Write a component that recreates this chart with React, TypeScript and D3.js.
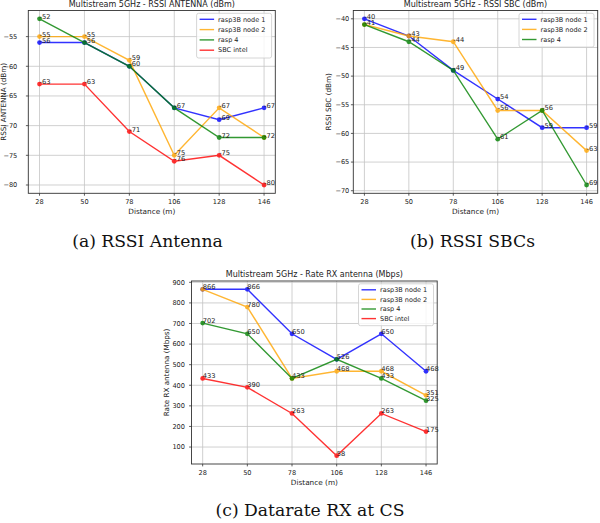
import React from "react";
import * as d3 from "d3";

const distances = ["28", "50", "78", "106", "128", "146"];
const seriesNames = ["rasp3B node 1", "rasp3B node 2", "rasp 4", "SBC intel"];
const seriesColors = ["#0000ff", "#ffa500", "#008000", "#ff0000"];

// (a) RSSI antenna (dBm)
const rssiAntNode1 = [-56, -56, -60, -67, -69, -67];
const rssiAntNode2 = [-55, -55, -59, -75, -67, -72];
const rssiAntRasp4 = [-52, -56, -60, -67, -72, -72];
const rssiAntIntel = [-63, -63, -71, -76, -75, -80];
const rssiAntTicks = [-80, -75, -70, -65, -60, -55];

// (b) RSSI SBC (dBm)
const rssiSbcNode1 = [-40, -43, -49, -54, -59, -59];
const rssiSbcNode2 = [-41, -43, -44, -56, -56, -63];
const rssiSbcRasp4 = [-41, -44, -49, -61, -56, -69];
const rssiSbcTicks = [-70, -65, -60, -55, -50, -45, -40];

// (c) Rate RX antenna (Mbps)
const rateNode1 = [866, 866, 650, 526, 650, 468];
const rateNode2 = [866, 780, 433, 468, 468, 351];
const rateRasp4 = [702, 650, 433, 526, 433, 325];
const rateIntel = [433, 390, 263, 58, 263, 175];
const rateTicks = [100, 200, 300, 400, 500, 600, 700, 800, 900];

type Series = { name: string; color: string; values: number[] };

const SANS = "DejaVu Sans, sans-serif";
const SERIF = "DejaVu Serif, serif";

function makeSeries(vals: number[][]): Series[] {
  return vals.map((v, i) => ({ name: seriesNames[i], color: seriesColors[i], values: v }));
}

type ChartProps = {
  left: number;
  top: number;
  width: number;
  height: number;
  title: string;
  ylabel: string;
  yTicks: number[];
  series: Series[];
  ytickGap: number;
  ylabelX: number;
  legendRowH: number;
};

function Chart(p: ChartProps) {
  const { left, top, width, height, series } = p;
  const right = left + width;
  const bottom = top + height;
  const x = d3.scalePoint<string>().domain(distances).range([left, right]).padding(0.25);
  const all = series.flatMap((s) => s.values);
  const mn = d3.min(all) as number;
  const mx = d3.max(all) as number;
  const pad = (mx - mn) * 0.05;
  const y = d3.scaleLinear().domain([mn - pad, mx + pad]).range([bottom, top]);
  const fmt = d3.format("d");
  const line = d3
    .line<number>()
    .x((_, i) => x(distances[i]) as number)
    .y((d) => y(d));

  // annotations: identical labels at the same spot are drawn once
  const seen = new Set<string>();
  const labels: { key: string; x: number; y: number; text: string }[] = [];
  series.forEach((s) =>
    s.values.forEach((v, i) => {
      const k = distances[i] + "|" + v;
      if (seen.has(k)) return;
      seen.add(k);
      labels.push({ key: s.name + i, x: x(distances[i]) as number, y: y(v), text: String(v) });
    })
  );

  const legW = 75;
  const legX = right - 3.7 - legW;
  const legY = top + 2.8;
  const rowH = p.legendRowH;
  const legH = series.length * rowH + 3.5;

  return (
    <g>
      {distances.map((d) => (
        <line key={"gx" + d} x1={x(d)} x2={x(d)} y1={top} y2={bottom} stroke="#c4c4c4" strokeWidth={0.8} />
      ))}
      {p.yTicks.map((t) => (
        <line key={"gy" + t} x1={left} x2={right} y1={y(t)} y2={y(t)} stroke="#c4c4c4" strokeWidth={0.8} />
      ))}
      {series.map((s) => (
        <g key={s.name} opacity={0.8}>
          <path d={line(s.values) || ""} fill="none" stroke={s.color} strokeWidth={1.4} />
          {s.values.map((v, i) => (
            <circle key={i} cx={x(distances[i])} cy={y(v)} r={2.4} fill={s.color} />
          ))}
        </g>
      ))}
      {labels.map((l) => (
        <text key={l.key} x={l.x} y={l.y} fontFamily={SANS} fontSize={6.7} fill="#1a1a1a">
          {l.text}
        </text>
      ))}
      <rect x={left} y={top} width={width} height={height} fill="none" stroke="#333" strokeWidth={0.9} />
      {distances.map((d) => (
        <g key={"xt" + d}>
          <line x1={x(d)} x2={x(d)} y1={bottom} y2={bottom + 2.4} stroke="#333" strokeWidth={0.8} />
          <text x={x(d)} y={bottom + 10.5} textAnchor="middle" fontFamily={SANS} fontSize={6.6} fill="#222">
            {d}
          </text>
        </g>
      ))}
      {p.yTicks.map((t) => (
        <g key={"yt" + t}>
          <line x1={left - 2.4} x2={left} y1={y(t)} y2={y(t)} stroke="#333" strokeWidth={0.8} />
          <text
            x={left - p.ytickGap}
            y={y(t)}
            dy="0.35em"
            textAnchor="end"
            fontFamily={SANS}
            fontSize={6.6}
            fill="#222"
          >
            {fmt(t)}
          </text>
        </g>
      ))}
      <text x={(left + right) / 2} y={top - 3.8} textAnchor="middle" fontFamily={SANS} fontSize={8} fill="#222">
        {p.title}
      </text>
      <text x={(left + right) / 2} y={bottom + 20.5} textAnchor="middle" fontFamily={SANS} fontSize={7.3} fill="#222">
        Distance (m)
      </text>
      <text
        transform={`translate(${p.ylabelX},${(top + bottom) / 2}) rotate(-90)`}
        textAnchor="middle"
        fontFamily={SANS}
        fontSize={7.2}
        fill="#222"
      >
        {p.ylabel}
      </text>
      <rect x={legX} y={legY} width={legW} height={legH} rx={2} fill="#fff" fillOpacity={0.8} stroke="#cccccc" strokeWidth={0.8} />
      {series.map((s, i) => {
        const cy = legY + 6 + i * rowH;
        return (
          <g key={"lg" + s.name}>
            <line x1={legX + 3} x2={legX + 17.5} y1={cy} y2={cy} stroke={s.color} strokeOpacity={0.8} strokeWidth={1.4} />
            <text x={legX + 21.5} y={cy} dy="0.35em" fontFamily={SANS} fontSize={6.5} fill="#222">
              {s.name}
            </text>
          </g>
        );
      })}
    </g>
  );
}

export default function App() {
  const W = 600;
  const H = 523;
  return (
    <svg width={W} height={H} style={{ position: "absolute", left: 0, top: 0, background: "#fff" }}>
      <rect x={0} y={0} width={W} height={H} fill="#fff" />
      <Chart
        left={28.3}
        top={10.5}
        width={247}
        height={182.8}
        title="Multistream 5GHz - RSSI ANTENNA (dBm)"
        ylabel="RSSI ANTENNA (dBm)"
        yTicks={rssiAntTicks}
        series={makeSeries([rssiAntNode1, rssiAntNode2, rssiAntRasp4, rssiAntIntel])}
        ytickGap={11}
        ylabelX={6}
        legendRowH={10.3}
      />
      <Chart
        left={353.3}
        top={10.5}
        width={244.4}
        height={182.8}
        title="Multistream 5GHz - RSSI SBC (dBm)"
        ylabel="RSSI SBC (dBm)"
        yTicks={rssiSbcTicks}
        series={makeSeries([rssiSbcNode1, rssiSbcNode2, rssiSbcRasp4])}
        ytickGap={4}
        ylabelX={330.8}
        legendRowH={10.1}
      />
      <Chart
        left={191.5}
        top={281}
        width={245.7}
        height={183}
        title="Multistream 5GHz - Rate RX antenna (Mbps)"
        ylabel="Rate RX antenna (Mbps)"
        yTicks={rateTicks}
        series={makeSeries([rateNode1, rateNode2, rateRasp4, rateIntel])}
        ytickGap={6.5}
        ylabelX={169.2}
        legendRowH={9.6}
      />
      <text x={147.5} y={247} textAnchor="middle" fontFamily={SERIF} fontSize={17.2} fill="#111">
        (a) RSSI Antenna
      </text>
      <text x={472.5} y={247} textAnchor="middle" fontFamily={SERIF} fontSize={17.2} fill="#111">
        (b) RSSI SBCs
      </text>
      <text x={310} y={516} textAnchor="middle" fontFamily={SERIF} fontSize={17.2} fill="#111">
        (c) Datarate RX at CS
      </text>
    </svg>
  );
}
